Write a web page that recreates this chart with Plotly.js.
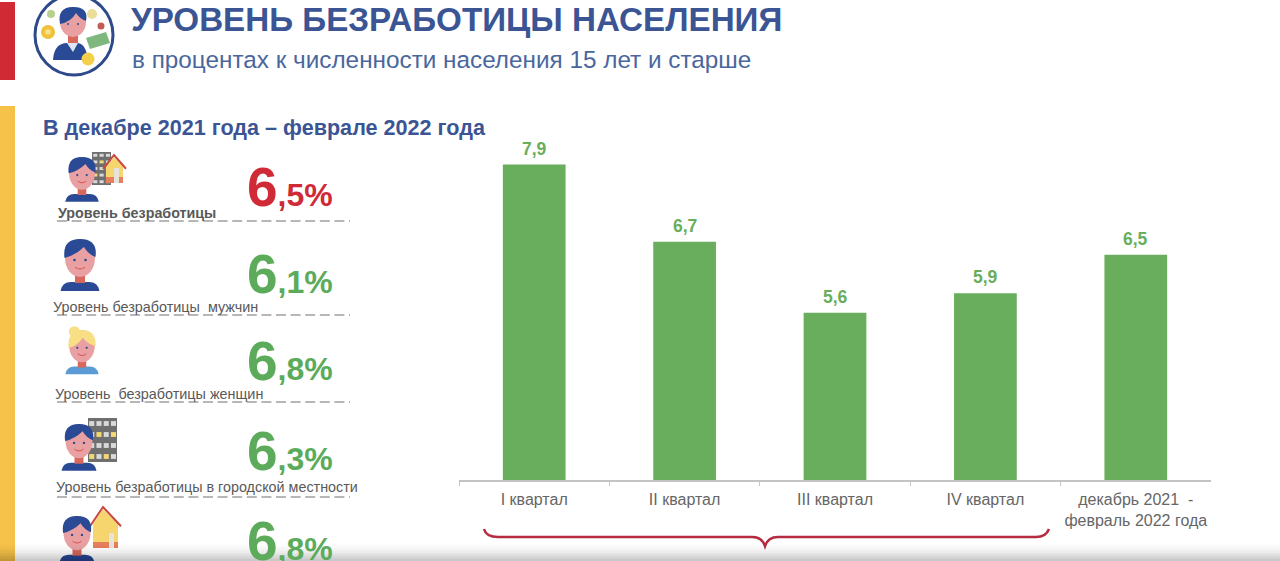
<!DOCTYPE html>
<html><head><meta charset="utf-8">
<script src="https://cdn.plot.ly/plotly-3.0.1.min.js"></script>
<style>html,body{margin:0;padding:0;background:#fff;overflow:hidden}</style></head>
<body><div id="chart" style="width:1280px;height:561px"></div>
<script>
const categories = ["I квартал","II квартал","III квартал","IV квартал","декабрь 2021  -<br>февраль 2022 года"];
const rates = [7.9,6.7,5.6,5.9,6.5];
const rateLabels = ["7,9","6,7","5,6","5,9","6,5"];
const kpiLabels = ["<b>Уровень безработицы</b>","Уровень безработицы  мужчин","Уровень  безработицы женщин","Уровень безработицы в городской местности"];
const kpiWhole = ["6","6","6","6","6"];
const kpiFraction = [",5%",",1%",",8%",",3%",",8%"];
const kpiColors = ["#cf2a36","#5bab5b","#5bab5b","#5bab5b","#5bab5b"];

const W=1280,H=561;
const X=p=>p/W, Y=p=>1-p/H;
const shapes=[];
const base={xref:'paper',yref:'paper'};
function rect(x0,y0,x1,y1,fill,extra){shapes.push(Object.assign({},base,{type:'rect',x0:X(x0),x1:X(x1),y0:Y(y0),y1:Y(y1),fillcolor:fill,line:{width:0}},extra||{}));}
function ell(cx,cy,rx,ry,fill,line){shapes.push(Object.assign({},base,{type:'circle',x0:X(cx-rx),x1:X(cx+rx),y0:Y(cy-ry),y1:Y(cy+ry),fillcolor:fill,line:line||{width:0}}));}
function path(d,fill,line){
  const s=d.replace(/(-?[\d.]+),(-?[\d.]+)/g,(m,a,b)=>X(+a).toFixed(6)+','+Y(+b).toFixed(6));
  shapes.push(Object.assign({},base,{type:'path',path:s,fillcolor:fill||'rgba(0,0,0,0)',line:line||{width:0}}));
}
function hline(x0,x1,y,color,dash,w){shapes.push(Object.assign({},base,{type:'line',x0:X(x0),x1:X(x1),y0:Y(y),y1:Y(y),line:{color:color,width:w||1.3,dash:dash}}));}

const navy="#2b4a96",skin="#e9a0a2",neck="#d9685c";
function person(cx,top,s,hair,cloth,female){
  const sy=top+43*s;
  path(`M${cx-19.5*s},${sy+9*s} Q${cx-18*s},${sy} ${cx-9*s},${sy} L${cx+9*s},${sy} Q${cx+18*s},${sy} ${cx+19.5*s},${sy+9*s} Z`,cloth);
  rect(cx-5*s,top+34*s,cx+5*s,sy+1,neck);
  ell(cx,top+19*s,15*s,19*s,skin);
  if(female){
    ell(cx-9*s,top+2*s,6.5*s,6.5*s,hair);
    path(`M${cx-16*s},${top+21*s} Q${cx-17*s},${top} ${cx},${top} Q${cx+17*s},${top} ${cx+16*s},${top+19*s} Q${cx+6*s},${top+16*s} ${cx+1*s},${top+9*s} Q${cx-6*s},${top+19*s} ${cx-16*s},${top+21*s} Z`,hair);
  }else{
    path(`M${cx-15.5*s},${top+19*s} Q${cx-18*s},${top} ${cx},${top} Q${cx+18*s},${top} ${cx+15.5*s},${top+18*s} Q${cx+8*s},${top+15*s} ${cx+4*s},${top+8*s} Q${cx-4*s},${top+16*s} ${cx-15.5*s},${top+19*s} Z`,hair);
  }
  ell(cx-5.5*s,top+21*s,1.3*s,1.3*s,"#2b4a96");
  ell(cx+5.5*s,top+21*s,1.3*s,1.3*s,"#2b4a96");
  path(`M${cx-5*s},${top+28*s} Q${cx},${top+32*s} ${cx+5*s},${top+28*s}`,null,{color:"#d9534f",width:1});
}
function building(x0,y0,x1,y1,rows,cols){
  rect(x0,y0,x1,y1,"#6f6f6f");
  const cw=(x1-x0)/cols,ch=(y1-y0)/rows;
  for(let r=0;r<rows;r++)for(let c=0;c<cols;c++){
    rect(x0+c*cw+1.2,y0+r*ch+ch*0.28,x0+(c+1)*cw-1,y0+(r+1)*ch-ch*0.28,((r*3+c*2)%4===1)?"#f3d873":"#d9d9d9");
  }
}
function house(x0,y0,x1,y1,apex){
  const mx=apex,ry=y0+(y1-y0)*0.42;
  path(`M${x0+3},${ry} L${mx},${y0+2} L${x1-3},${ry} L${x1-3},${y1} L${x0+3},${y1} Z`,"#f6d56f");
  path(`M${x0},${ry+2} L${mx},${y0} L${x1},${ry+2}`,null,{color:"#c9473f",width:2});
  rect(x0+3,y1-6,x1-3,y1,"#e77f5d");
  rect(x1-12,y1-15,x1-7,y1,"#e6e3dd");
}

// colour bands at the left edge
rect(0,2,15,80,"#d02a35");
rect(0,106,15,561,"#f6c24a");

// header badge
ell(74,35,39,40,"#ffffff",{color:"#2f4a8a",width:3});
ell(48,32,7,7,"#f0c23a"); ell(48,32,2.8,2.8,"#f9e08a");
ell(51,14,4,4,"#b8cf8e"); ell(92,14,5,5,"#ecdc9a"); ell(101,26,3.5,3.5,"#c45a55");
path("M53,60 Q54,44 66,43 L78,43 Q86,44 88,60 Z",navy);
path("M67,43 L73,52 L78,43 Z","#dfe6f2");
rect(68,35,78,43,neck);
ell(73,22,13,15,skin);
path("M60,24 Q57,7 73,7 Q89,7 86,21 Q80,19 76,13 Q71,22 60,24 Z",navy);
ell(68,24,1,1,navy); ell(78,24,1,1,navy);
path("M86,38 L106,32 L110,43 L90,49 Z","#7fb87f");
ell(88,59,6.5,6.5,"#f4cf4a");

// small icons of each row
building(92,152,111,185,5,3);
house(103,155,126,183,114);
person(82,157,0.86,navy,navy,false);
person(80,239,1,navy,navy,false);
person(82,330,0.85,"#f8de85","#5b9bd5",true);
building(88,418,117,462,4,4);
person(79,424,0.9,navy,navy,false);
house(90,507,121,548,103);
person(77,516,0.9,navy,navy,false);

// dashed rules under the row captions
[221,315,402,497].forEach(y=>hline(57,350,y,"#a0a0a0","10px,4.6px"));

// brace below the bars
path("M484,529 Q486,537 498,537 L752,537 Q762,537 765,546 Q768,537 778,537 L1036,537 Q1046,537 1049,529",null,{color:"#b52b40",width:2.5});

// soft shadow along the bottom edge
for(let i=0;i<11;i++){
  rect(0,541+i*2,1280,561,`rgba(0,0,0,${(0.005*i).toFixed(3)})`);
}

const annotations=[];
const FONT='"Liberation Sans",Arial,sans-serif';
function txt(text,x,y,size,color){
  annotations.push({xref:'paper',yref:'paper',x:X(x),y:Y(y),text:text,showarrow:false,xanchor:'left',yanchor:'middle',align:'left',borderpad:0,
    font:{family:FONT,size:size,color:color}});
}
txt("в процентах к численности населения 15 лет и старше",131,59,24.3,"#4a679d");
txt("<b>В декабре 2021 года – феврале 2022 года</b>",42,128,21.6,"#3b5594");
const capY=[213,307,394,487],capX=[57,52,54,55];
const capSize=[14.3,14.4,14.4,14.35];
kpiLabels.forEach((t,i)=>txt(t,capX[i],capY[i],capSize[i],"#595959"));
const kpiY=[187,274,361,451,541];
kpiWhole.forEach((w,i)=>txt(`<b><span style="font-size:55px">${w}</span><span style="font-size:32px">${kpiFraction[i]}</span></b>`,246,kpiY[i],32,kpiColors[i]));
rates.forEach((v,i)=>annotations.push({xref:'x',yref:'y',x:categories[i],y:v,yshift:16,text:`<b>${rateLabels[i]}</b>`,showarrow:false,xanchor:'center',yanchor:'middle',borderpad:0,
  font:{family:FONT,size:17.5,color:"#69ae5c"}}));

const data=[{type:'bar',x:categories,y:rates,marker:{color:"#69ae5c",line:{width:0}},width:0.417,cliponaxis:false,hoverinfo:'skip'}];

const layout={width:W,height:H,autosize:false,margin:{l:0,r:0,t:0,b:0},paper_bgcolor:"#fff",plot_bgcolor:"rgba(0,0,0,0)",showlegend:false,
  title:{text:"<b>УРОВЕНЬ БЕЗРАБОТИЦЫ НАСЕЛЕНИЯ</b>",xref:'paper',yref:'paper',x:X(131),xanchor:'left',y:Y(19),yanchor:'middle',
    font:{family:FONT,size:33.2,color:"#3b5594"}},
  xaxis:{domain:[X(459),X(1211)],type:'category',tickson:'boundaries',ticks:'outside',ticklen:4,tickcolor:"#c4c4c4",tickwidth:1,
    showline:true,linecolor:"#c4c4c4",linewidth:1.5,showgrid:false,automargin:false,ticklabelstandoff:4,
    tickfont:{family:FONT,size:16,color:"#666666"}},
  yaxis:{domain:[Y(480),Y(126)],range:[3,8.5],visible:false,showgrid:false,zeroline:false,automargin:false},
  bargap:0.58,shapes:shapes,annotations:annotations};
Plotly.newPlot('chart',data,layout,{displayModeBar:false,staticPlot:true});
</script></body></html>
